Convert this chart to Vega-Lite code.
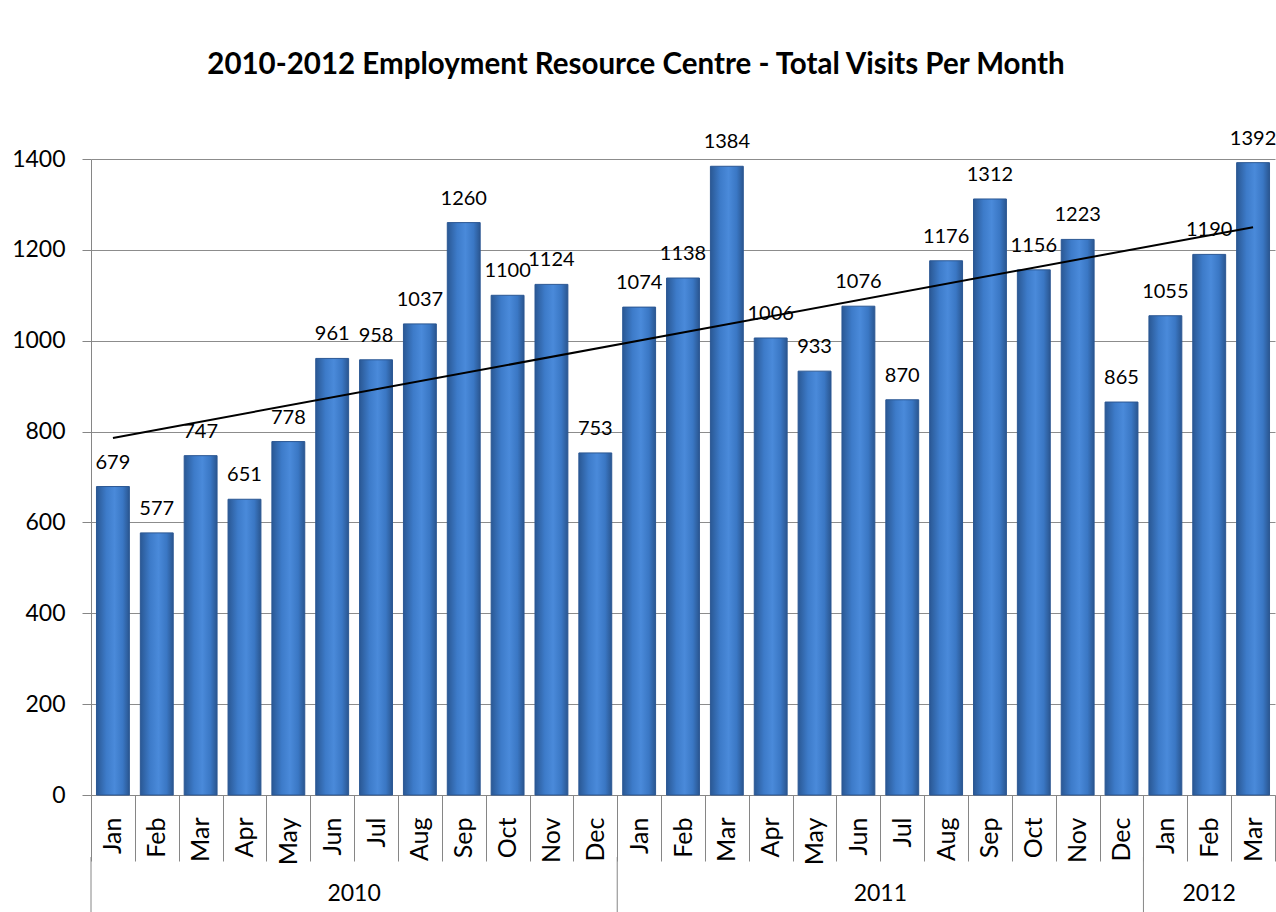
{
  "$schema": "https://vega.github.io/schema/vega-lite/v6.json",
  "padding": {"left": 11, "top": 50, "right": 0, "bottom": 0},
  "background": "white",
  "title": {
    "text": "2010-2012 Employment Resource Centre - Total Visits Per Month",
    "font": "Lato",
    "fontSize": 29.5,
    "fontWeight": "bold",
    "color": "black",
    "anchor": "middle",
    "dx": -8,
    "offset": 48
  },
  "bounds": "flush",
  "spacing": 62,
  "datasets": {
    "visits": [
      {"key": "2010-01 Jan", "visits": 679},
      {"key": "2010-02 Feb", "visits": 577},
      {"key": "2010-03 Mar", "visits": 747},
      {"key": "2010-04 Apr", "visits": 651},
      {"key": "2010-05 May", "visits": 778},
      {"key": "2010-06 Jun", "visits": 961},
      {"key": "2010-07 Jul", "visits": 958},
      {"key": "2010-08 Aug", "visits": 1037},
      {"key": "2010-09 Sep", "visits": 1260},
      {"key": "2010-10 Oct", "visits": 1100},
      {"key": "2010-11 Nov", "visits": 1124},
      {"key": "2010-12 Dec", "visits": 753},
      {"key": "2011-01 Jan", "visits": 1074},
      {"key": "2011-02 Feb", "visits": 1138},
      {"key": "2011-03 Mar", "visits": 1384},
      {"key": "2011-04 Apr", "visits": 1006},
      {"key": "2011-05 May", "visits": 933},
      {"key": "2011-06 Jun", "visits": 1076},
      {"key": "2011-07 Jul", "visits": 870},
      {"key": "2011-08 Aug", "visits": 1176},
      {"key": "2011-09 Sep", "visits": 1312},
      {"key": "2011-10 Oct", "visits": 1156},
      {"key": "2011-11 Nov", "visits": 1223},
      {"key": "2011-12 Dec", "visits": 865},
      {"key": "2012-01 Jan", "visits": 1055},
      {"key": "2012-02 Feb", "visits": 1190},
      {"key": "2012-03 Mar", "visits": 1392}
    ],
    "trend": [
      {"key": "2010-01 Jan", "trend": 786},
      {"key": "2012-03 Mar", "trend": 1250}
    ],
    "years": [
      {"year": "2010", "start": 0, "end": 12, "mid": 6},
      {"year": "2011", "start": 12, "end": 24, "mid": 18},
      {"year": "2012", "start": 24, "end": 27, "mid": 25.5}
    ]
  },
  "vconcat": [
    {
      "width": 1184,
      "height": 636,
      "encoding": {
        "x": {
          "field": "key",
          "type": "ordinal",
          "scale": {"paddingInner": 0, "paddingOuter": 0},
          "axis": {
            "title": null,
            "tickBand": "extent",
            "tickSize": 66,
            "tickColor": "#868686",
            "domainColor": "#868686",
            "labelAngle": -90,
            "labelAlign": "right",
            "labelBaseline": "middle",
            "labelPadding": -44,
            "labelFont": "Lato",
            "labelFontSize": 25,
            "labelColor": "black",
            "labelOverlap": false,
            "labelExpr": "substring(datum.label, 8, 11)"
          }
        }
      },
      "layer": [
        {
          "data": {"name": "visits"},
          "mark": {
            "type": "bar",
            "width": {"band": 0.75},
            "stroke": "#2B5793",
            "strokeWidth": 1,
            "color": {
              "gradient": "linear",
              "x1": 0, "x2": 1, "y1": 0, "y2": 0,
              "stops": [
                {"offset": 0, "color": "#2A5894"},
                {"offset": 0.3, "color": "#3D7BC9"},
                {"offset": 0.55, "color": "#4A8ADA"},
                {"offset": 0.8, "color": "#3A77C4"},
                {"offset": 1, "color": "#2A5690"}
              ]
            }
          },
          "encoding": {
            "y": {
              "field": "visits",
              "type": "quantitative",
              "scale": {"domain": [0, 1400], "nice": false},
              "axis": {
                "title": null,
                "values": [0, 200, 400, 600, 800, 1000, 1200, 1400],
                "format": "d",
                "tickSize": 9,
                "tickColor": "#868686",
                "domainColor": "#868686",
                "gridColor": "#8C8C8C",
                "grid": true,
                "labelPadding": 17,
                "labelFont": "Lato",
                "labelFontSize": 23,
                "labelColor": "black"
              }
            }
          }
        },
        {
          "data": {"name": "visits"},
          "mark": {"type": "text", "baseline": "alphabetic", "dy": -18, "fontSize": 20, "font": "Lato", "color": "black"},
          "encoding": {
            "y": {"field": "visits", "type": "quantitative"},
            "text": {"field": "visits", "type": "quantitative", "format": "d"}
          }
        },
        {
          "data": {"name": "trend"},
          "mark": {"type": "line", "color": "black", "strokeWidth": 2},
          "encoding": {
            "y": {"field": "trend", "type": "quantitative"}
          }
        }
      ]
    },
    {
      "width": 1184,
      "height": 55,
      "data": {"name": "years"},
      "layer": [
        {
          "mark": {"type": "rule", "color": "#868686", "strokeWidth": 1},
          "encoding": {
            "x": {"field": "start", "type": "quantitative", "scale": {"domain": [0, 27], "nice": false, "zero": false}, "axis": null}
          }
        },
        {
          "mark": {"type": "text", "fontSize": 23, "font": "Lato", "color": "black", "dy": 9},
          "encoding": {
            "x": {"field": "mid", "type": "quantitative"},
            "text": {"field": "year"}
          }
        }
      ]
    }
  ],
  "config": {
    "view": {"stroke": null},
    "font": "Lato"
  }
}
